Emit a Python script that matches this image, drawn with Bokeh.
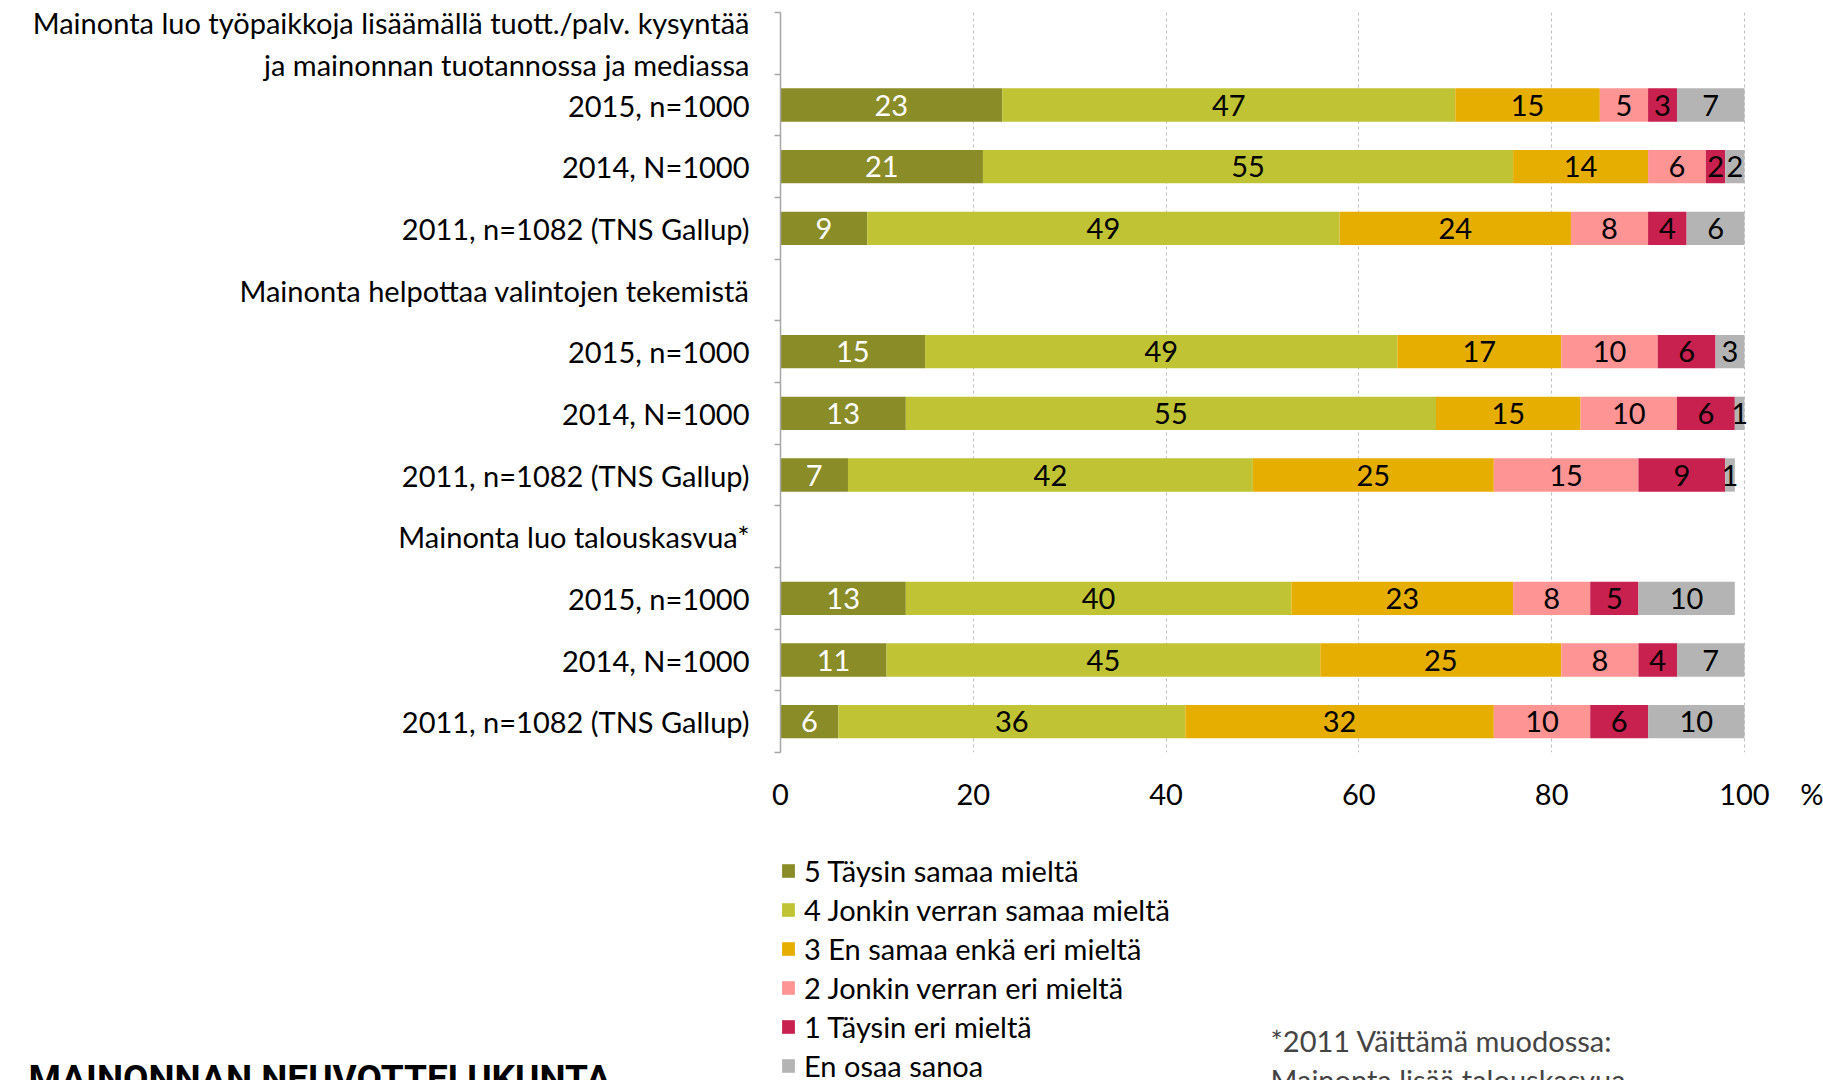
from bokeh.plotting import figure
from bokeh.layouts import column, row
from bokeh.models import Range1d, FixedTicker, Label, Legend, LegendItem, ColumnDataSource
from bokeh.core.properties import value
from bokeh.embed import file_html
from bokeh.resources import INLINE

statements = [
    "Mainonta luo työpaikkoja lisäämällä tuott./palv. kysyntää\nja mainonnan tuotannossa ja mediassa",
    "Mainonta helpottaa valintojen tekemistä",
    "Mainonta luo talouskasvua*",
]
years = ["2015, n=1000", "2014, N=1000", "2011, n=1082 (TNS Gallup)"]
series = ["5 Täysin samaa mieltä", "4 Jonkin verran samaa mieltä", "3 En samaa enkä eri mieltä",
          "2 Jonkin verran eri mieltä", "1 Täysin eri mieltä", "En osaa sanoa"]
colors = ["#8A8C27", "#BFC334", "#E6AE00", "#FF9494", "#C8204F", "#B4B4B4"]
label_colors = ["white", "black", "black", "black", "black", "black"]

s5 = [23, 21, 9, 15, 13, 7, 13, 11, 6]
s4 = [47, 55, 49, 49, 55, 42, 40, 45, 36]
s3 = [15, 14, 24, 17, 15, 25, 23, 25, 32]
s2 = [5, 6, 8, 10, 10, 15, 8, 8, 10]
s1 = [3, 2, 4, 6, 6, 9, 5, 4, 6]
eos = [7, 2, 6, 3, 1, 1, 10, 7, 10]
values = [s5, s4, s3, s2, s1, eos]

x_ticks = [0, 20, 40, 60, 80, 100]
grid_ticks = [20, 40, 60, 80, 100]
unit_label = "%"
footnote = ["*2011 Väittämä muodossa:", "Mainonta lisää talouskasvua"]
brand = "MAINONNAN NEUVOTTELUKUNTA"

FONT = "Lato"
FS = "29px"
W = 1823
H_TOP = 822
H_BOT = 258
FRAME_LEFT = 780

# category rows (top to bottom)
row_labels = []
data_rows = []
for i, st in enumerate(statements):
    row_labels.append(st)
    for j, yr in enumerate(years):
        data_rows.append(len(row_labels))
        row_labels.append(yr)
n_rows = len(row_labels)

UNIT_POS = 107
p = figure(width=W, height=H_TOP, x_range=Range1d(0, 108.2), y_range=Range1d(n_rows - 0.5, -0.5),
           output_backend="svg", toolbar_location=None,
           min_border_left=FRAME_LEFT, min_border_right=0, min_border_top=12, min_border_bottom=70)
p.outline_line_color = None

left = [0] * len(data_rows)
for k, vals in enumerate(values):
    right = [l + v for l, v in zip(left, vals)]
    src = ColumnDataSource(dict(y=data_rows, left=left, right=right,
                                mid=[(l + r) / 2 for l, r in zip(left, right)],
                                txt=[str(v) for v in vals]))
    p.hbar(y="y", left="left", right="right", height=0.54, source=src,
           fill_color=colors[k], line_color=None)
    p.text(x="mid", y="y", text="txt", source=src, text_align="center", text_baseline="middle",
           text_font=value(FONT), text_font_size=FS, text_color=label_colors[k])
    left = right

# y axis
p.yaxis.ticker = FixedTicker(ticks=list(range(n_rows)), minor_ticks=[r - 0.5 for r in range(n_rows + 1)])
p.yaxis.major_label_overrides = {r: lab for r, lab in enumerate(row_labels)}
p.yaxis.major_tick_out = 0
p.yaxis.major_tick_in = 0
p.yaxis.minor_tick_out = 6
p.yaxis.minor_tick_in = 0
p.yaxis.axis_line_color = "#A6A6A6"
p.yaxis.axis_line_width = 1.5
p.yaxis.minor_tick_line_color = "#A6A6A6"
p.yaxis.minor_tick_line_width = 1.5
p.yaxis.major_label_text_font = FONT
p.yaxis.major_label_text_font_size = FS
p.yaxis.major_label_text_color = "black"
p.yaxis.major_label_standoff = 25

# x axis (with the unit sign as an extra tick label at the right)
p.xaxis.ticker = FixedTicker(ticks=x_ticks + [UNIT_POS])
p.xaxis.major_label_overrides = {UNIT_POS: unit_label}
p.xaxis.axis_line_color = None
p.xaxis.major_tick_line_color = None
p.xaxis.minor_tick_line_color = None
p.xaxis.major_label_text_font = FONT
p.xaxis.major_label_text_font_size = FS
p.xaxis.major_label_text_color = "black"
p.xaxis.major_label_standoff = 17

p.xgrid.ticker = FixedTicker(ticks=grid_ticks)
p.xgrid.grid_line_color = "#BFBFBF"
p.xgrid.grid_line_dash = "3 3"
p.ygrid.grid_line_color = None

# bottom-left panel: brand text (coordinates = page pixels)
p3 = figure(width=FRAME_LEFT, height=H_BOT, x_range=Range1d(0, FRAME_LEFT), y_range=Range1d(H_TOP + H_BOT, H_TOP),
            output_backend="svg", toolbar_location=None, x_axis_type=None, y_axis_type=None,
            min_border_left=0, min_border_right=0, min_border_top=0, min_border_bottom=0)
p3.outline_line_color = None
p3.grid.visible = False
p3.add_layout(Label(x=28, y=1078, text=brand, text_align="left", text_baseline="alphabetic",
                    text_font="Roboto", text_font_size="37px", text_font_style="bold",
                    text_color="black"))

# bottom-right panel: legend and notes (coordinates = page pixels)
p2 = figure(width=W - FRAME_LEFT, height=H_BOT, x_range=Range1d(FRAME_LEFT, W), y_range=Range1d(H_TOP + H_BOT, H_TOP),
            output_backend="svg", toolbar_location=None, x_axis_type=None, y_axis_type=None,
            min_border_left=0, min_border_right=0, min_border_top=0, min_border_bottom=0)
p2.outline_line_color = None
p2.grid.visible = False

leg_renderers = []
for c in colors:
    leg_renderers.append(p2.hbar(y=[float("nan")], left=[float("nan")], right=[float("nan")], height=1,
                                 fill_color=c, line_color=None))

legend = Legend(items=[LegendItem(label=s, renderers=[r]) for s, r in zip(series, leg_renderers)],
                location=(0, -3), orientation="vertical",
                background_fill_alpha=0, border_line_color=None,
                label_text_font=FONT, label_text_font_size=FS, label_text_color="black",
                glyph_width=16, glyph_height=17, label_standoff=8, spacing=4,
                padding=0, margin=0, label_height=35)
p2.add_layout(legend)

p2.add_layout(Label(x=1270, y=1039.5, text=footnote[0], text_align="left",
                    text_baseline="middle", text_font=FONT, text_font_size=FS))
p2.add_layout(Label(x=1270, y=1079, text=footnote[1], text_align="left",
                    text_baseline="middle", text_font=FONT, text_font_size=FS))

layout = column(p, row(p3, p2, spacing=0), spacing=0)
open("out.html", "w").write(file_html(layout, INLINE))
